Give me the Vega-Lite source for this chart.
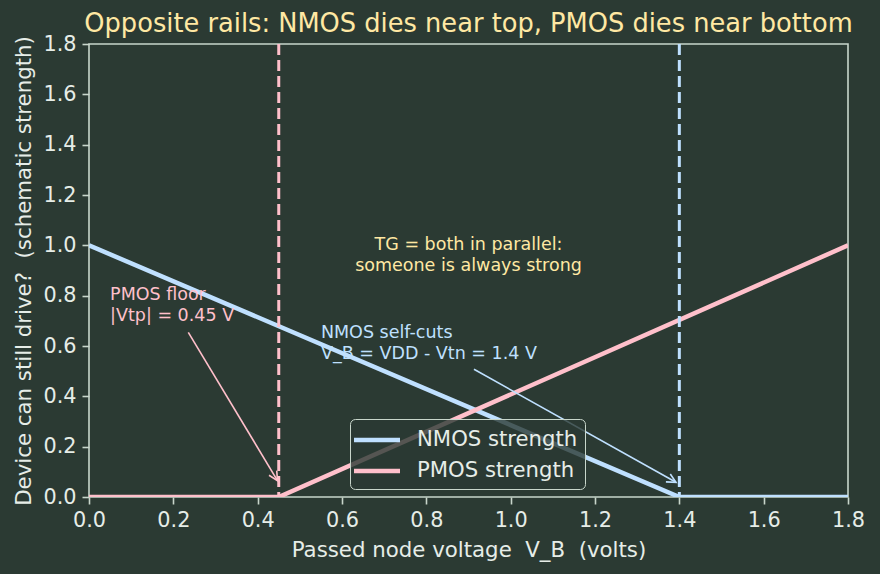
{
  "$schema": "https://vega.github.io/schema/vega-lite/v6.json",
  "width": 759,
  "height": 453,
  "autosize": {"type": "none"},
  "padding": {"left": 89, "top": 44, "right": 32, "bottom": 77},
  "background": "#2b3a33",
  "title": {
    "text": "Opposite rails: NMOS dies near top, PMOS dies near bottom",
    "color": "#ffe8a3",
    "fontSize": 25.7,
    "font": "DejaVu Sans",
    "fontWeight": "normal",
    "anchor": "middle",
    "frame": "group",
    "baseline": "bottom",
    "offset": 6,
    "dy": 36
  },
  "config": {
    "font": "DejaVu Sans",
    "view": {"stroke": "#c8d6cb", "strokeWidth": 1.6},
    "axis": {
      "grid": false,
      "domain": false,
      "tickColor": "#c8d6cb",
      "tickSize": 7,
      "tickWidth": 1.6,
      "labelColor": "#e6ede8",
      "labelFontSize": 20.8,
      "labelFont": "DejaVu Sans",
      "labelFlush": false,
      "labelOverlap": false,
      "titleColor": "#e6ede8",
      "titleFontSize": 21.3,
      "titleFont": "DejaVu Sans",
      "titleFontWeight": "normal",
      "labelPadding": 6
    },
    "legend": {
      "orient": "none",
      "legendX": 261,
      "legendY": 375,
      "labelFontSize": 21.2,
      "labelFont": "DejaVu Sans",
      "labelColor": "#e6ede8",
      "labelLimit": 400,
      "strokeColor": "#c8d6cb",
      "fillColor": "rgba(43,58,51,0.8)",
      "padding": 7,
      "cornerRadius": 5,
      "symbolType": "M-2,0H2",
      "symbolSize": 529,
      "symbolStrokeWidth": 4.5,
      "symbolOffset": 6,
      "rowPadding": 6,
      "labelOffset": 26
    }
  },
  "layer": [
    {
      "data": {
        "values": [
          {"series": "NMOS strength", "x": 0.0, "y": 1.0},
          {"series": "NMOS strength", "x": 1.4, "y": 0.0},
          {"series": "NMOS strength", "x": 1.8, "y": 0.0},
          {"series": "PMOS strength", "x": 0.0, "y": 0.0},
          {"series": "PMOS strength", "x": 0.45, "y": 0.0},
          {"series": "PMOS strength", "x": 1.8, "y": 1.0}
        ]
      },
      "mark": {"type": "line", "strokeWidth": 4.5, "clip": true},
      "encoding": {
        "x": {
          "field": "x",
          "type": "quantitative",
          "scale": {"domain": [0, 1.8], "nice": false, "zero": false},
          "axis": {"values": [0, 0.2, 0.4, 0.6, 0.8, 1.0, 1.2, 1.4, 1.6, 1.8], "format": ".1f", "title": "Passed node voltage\u00a0 V_B\u00a0 (volts)", "titlePadding": 10}
        },
        "y": {
          "field": "y",
          "type": "quantitative",
          "scale": {"domain": [0, 1.8], "nice": false},
          "axis": {"values": [0, 0.2, 0.4, 0.6, 0.8, 1.0, 1.2, 1.4, 1.6, 1.8], "format": ".1f", "title": "Device can still drive?\u00a0 (schematic strength)", "titlePadding": 8}
        },
        "color": {
          "field": "series",
          "type": "nominal",
          "scale": {"domain": ["NMOS strength", "PMOS strength"], "range": ["#bfe0ff", "#ffc0cb"]},
          "legend": {"title": null}
        }
      }
    },
    {
      "data": {"values": [{"v": 0.45}]},
      "mark": {"type": "rule", "color": "#ffc0cb", "strokeWidth": 3, "strokeDash": [11, 5]},
      "encoding": {"x": {"field": "v", "type": "quantitative"}}
    },
    {
      "data": {"values": [{"v": 1.4}]},
      "mark": {"type": "rule", "color": "#bfe0ff", "strokeWidth": 3, "strokeDash": [11, 5]},
      "encoding": {"x": {"field": "v", "type": "quantitative"}}
    },
    {
      "data": {"values": [{"x": 0.2355, "y": 0.6544, "x2": 0.447, "y2": 0.065}]},
      "mark": {"type": "rule", "color": "#ffc0cb", "strokeWidth": 1.6},
      "encoding": {
        "x": {"field": "x", "type": "quantitative"},
        "y": {"field": "y", "type": "quantitative"},
        "x2": {"field": "x2"},
        "y2": {"field": "y2"}
      }
    },
    {
      "data": {"values": [{"x": 0.447, "y": 0.065}]},
      "mark": {"type": "point", "shape": "M-1,-0.5L0,0L-1,0.5", "size": 324, "filled": false, "stroke": "#ffc0cb", "strokeWidth": 1.6, "angle": 59.1, "opacity": 1},
      "encoding": {
        "x": {"field": "x", "type": "quantitative"},
        "y": {"field": "y", "type": "quantitative"}
      }
    },
    {
      "data": {"values": [{"x": 0.913, "y": 0.5074, "x2": 1.392, "y2": 0.0584}]},
      "mark": {"type": "rule", "color": "#bfe0ff", "strokeWidth": 1.6},
      "encoding": {
        "x": {"field": "x", "type": "quantitative"},
        "y": {"field": "y", "type": "quantitative"},
        "x2": {"field": "x2"},
        "y2": {"field": "y2"}
      }
    },
    {
      "data": {"values": [{"x": 1.392, "y": 0.0584}]},
      "mark": {"type": "point", "shape": "M-1,-0.5L0,0L-1,0.5", "size": 324, "filled": false, "stroke": "#bfe0ff", "strokeWidth": 1.6, "angle": 29.2, "opacity": 1},
      "encoding": {
        "x": {"field": "x", "type": "quantitative"},
        "y": {"field": "y", "type": "quantitative"}
      }
    },
    {
      "data": {"values": [{"x": 0.05, "y": 0.7, "label": "PMOS floor\n|Vtp| = 0.45 V"}]},
      "mark": {"type": "text", "color": "#ffc0cb", "fontSize": 17.5, "font": "DejaVu Sans", "align": "left", "baseline": "alphabetic", "lineBreak": "\n", "lineHeight": 20.5, "dy": -20.5},
      "encoding": {
        "x": {"field": "x", "type": "quantitative"},
        "y": {"field": "y", "type": "quantitative"},
        "text": {"field": "label"}
      }
    },
    {
      "data": {"values": [{"x": 0.55, "y": 0.55, "label": "NMOS self-cuts\nV_B = VDD - Vtn = 1.4 V"}]},
      "mark": {"type": "text", "color": "#bfe0ff", "fontSize": 17.5, "font": "DejaVu Sans", "align": "left", "baseline": "alphabetic", "lineBreak": "\n", "lineHeight": 20.5, "dy": -20.5},
      "encoding": {
        "x": {"field": "x", "type": "quantitative"},
        "y": {"field": "y", "type": "quantitative"},
        "text": {"field": "label"}
      }
    },
    {
      "data": {"values": [{"x": 0.9, "y": 0.9, "label": "TG = both in parallel:\nsomeone is always strong"}]},
      "mark": {"type": "text", "color": "#ffe8a3", "fontSize": 17.5, "font": "DejaVu Sans", "align": "center", "baseline": "alphabetic", "lineBreak": "\n", "lineHeight": 20.5, "dy": -20.5},
      "encoding": {
        "x": {"field": "x", "type": "quantitative"},
        "y": {"field": "y", "type": "quantitative"},
        "text": {"field": "label"}
      }
    }
  ]
}
